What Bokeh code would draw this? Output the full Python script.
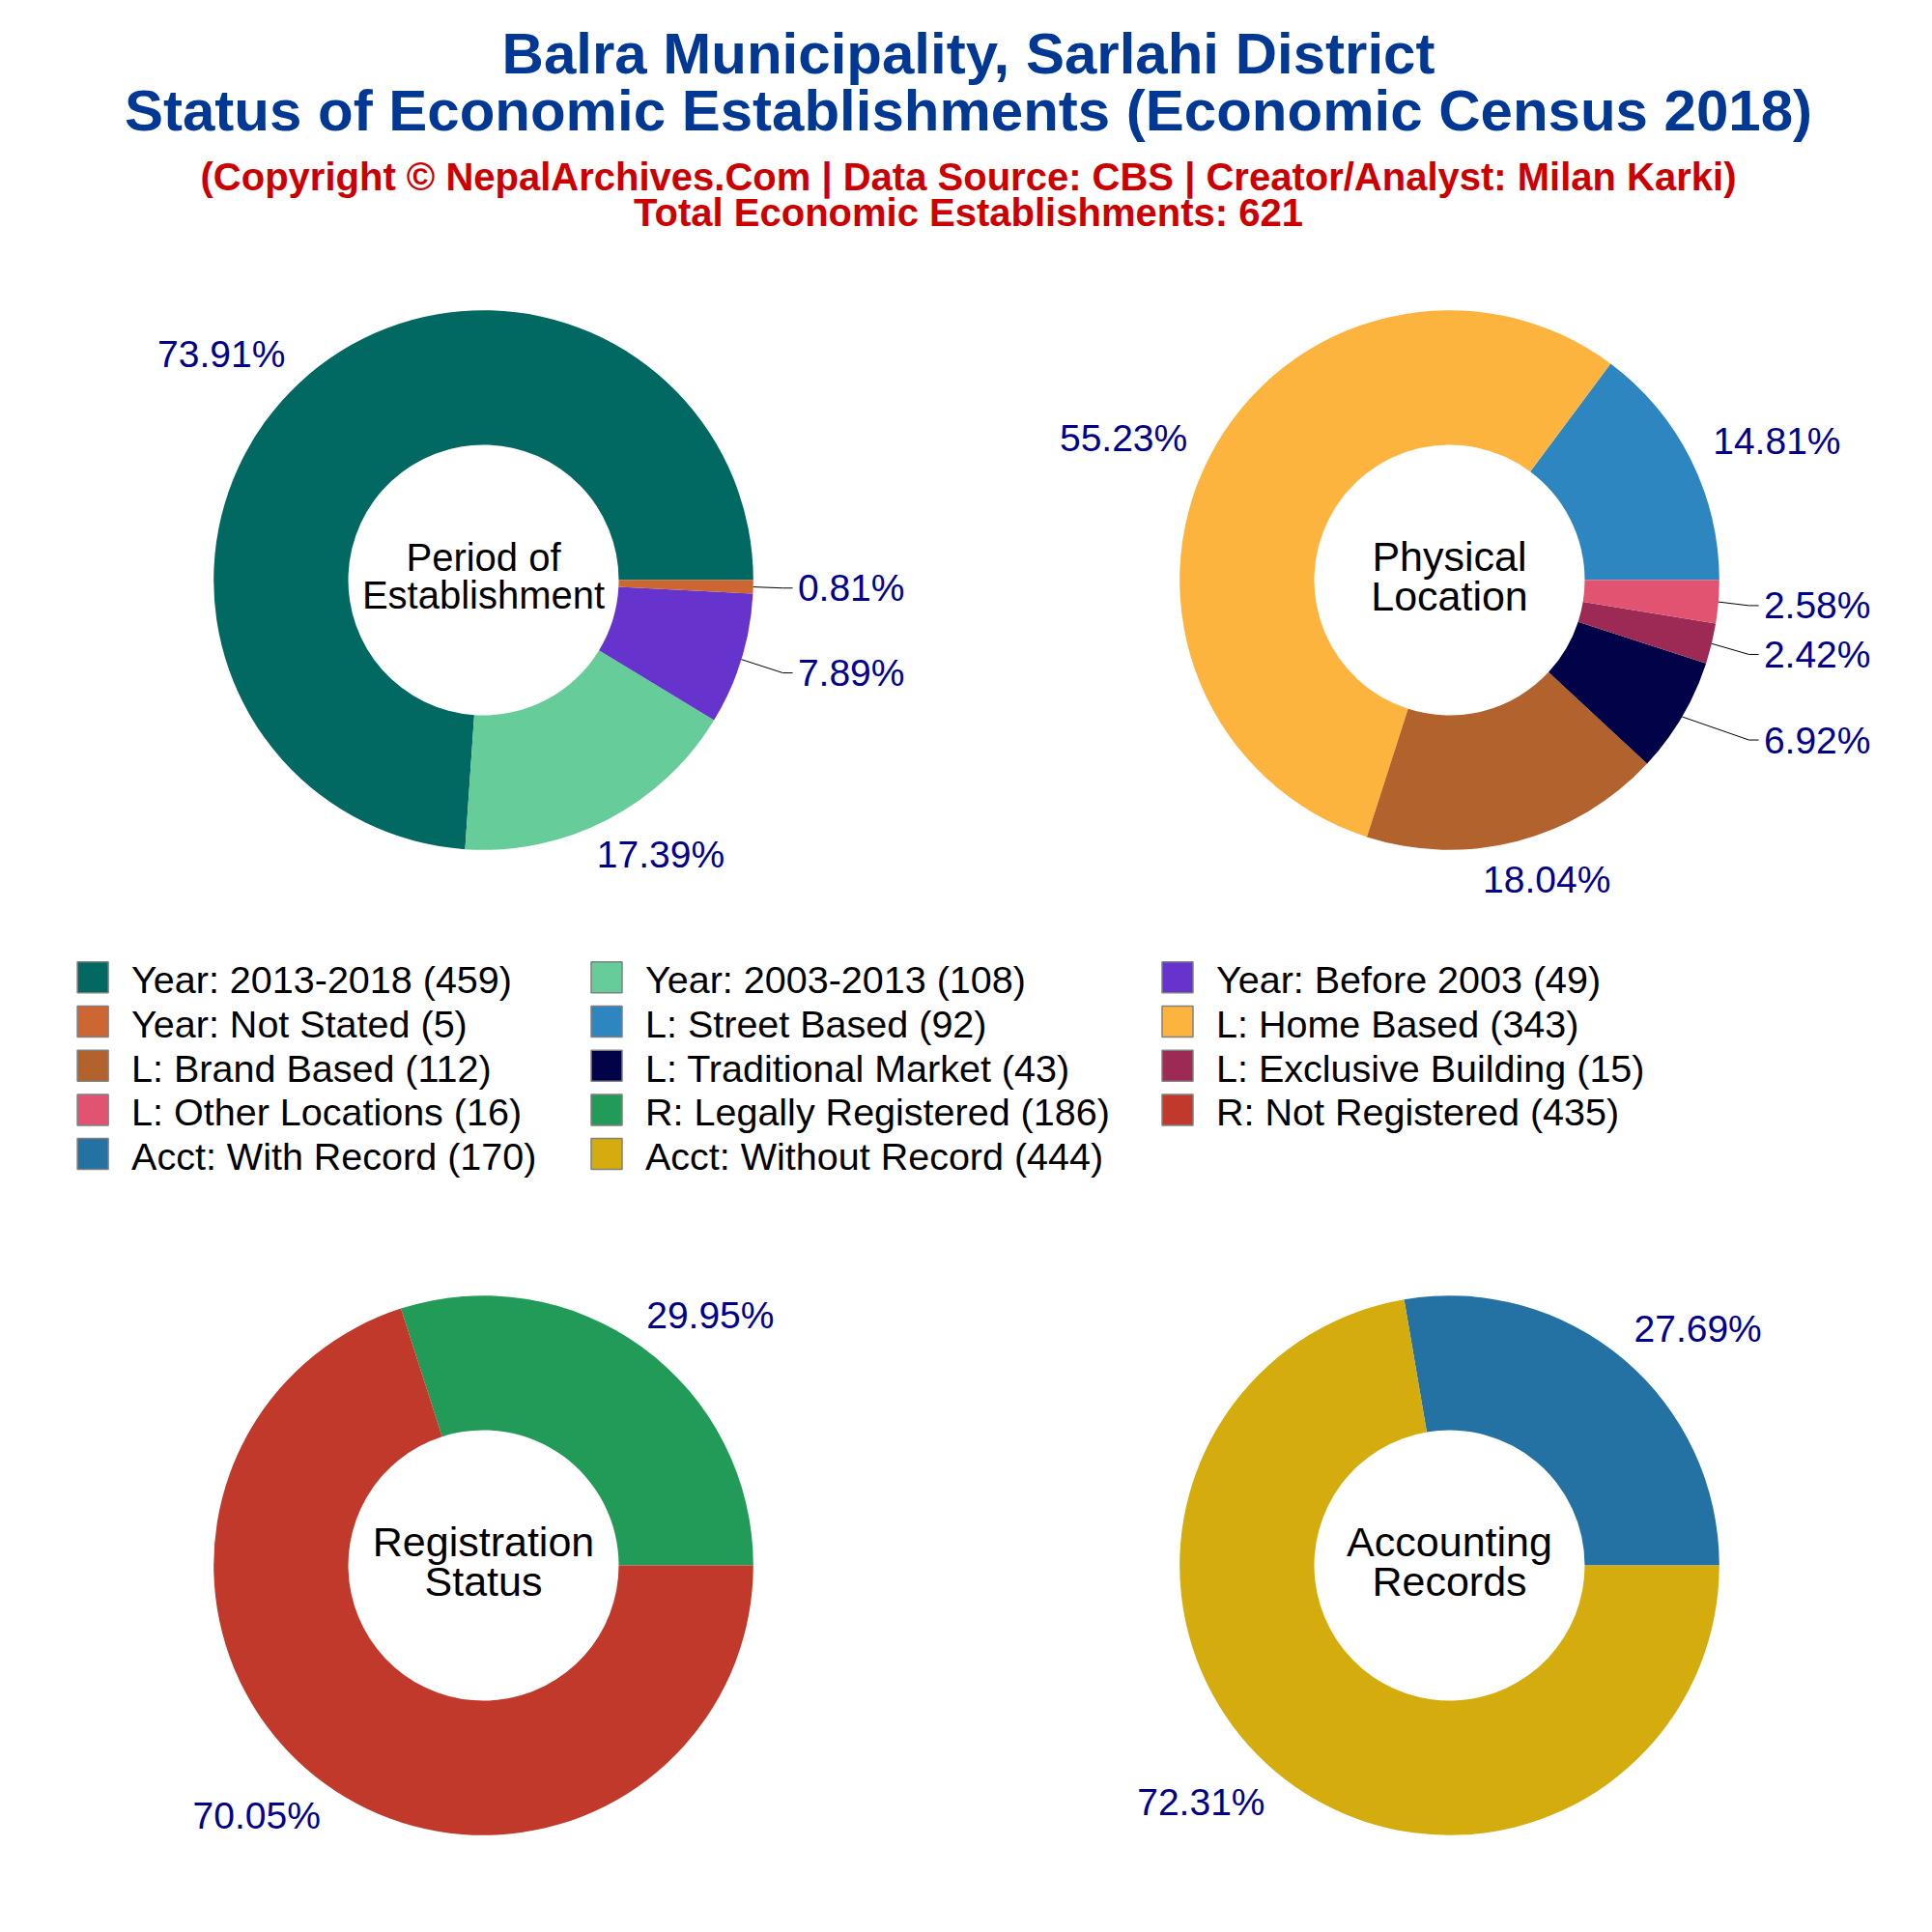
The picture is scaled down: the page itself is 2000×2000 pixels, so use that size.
import math
from bokeh.plotting import figure
from bokeh.models import Range1d
from bokeh.core.properties import value
from bokeh.embed import file_html
from bokeh.resources import INLINE

# ---------------- data ----------------
title_lines = ["Balra Municipality, Sarlahi District",
               "Status of Economic Establishments (Economic Census 2018)"]
subtitle_lines = ["(Copyright \u00a9 NepalArchives.Com | Data Source: CBS | Creator/Analyst: Milan Karki)",
                  "Total Economic Establishments: 621"]

period_labels = ["Year: 2013-2018", "Year: 2003-2013", "Year: Before 2003", "Year: Not Stated"]
period_counts = [459, 108, 49, 5]
period_colors = ["#026862", "#66CC99", "#6633CC", "#CC6633"]

location_labels = ["L: Street Based", "L: Home Based", "L: Brand Based",
                   "L: Traditional Market", "L: Exclusive Building", "L: Other Locations"]
location_counts = [92, 343, 112, 43, 15, 16]
location_colors = ["#2E86C1", "#FDB43F", "#B1622D", "#020249", "#9C2A55", "#E15370"]

registration_labels = ["R: Legally Registered", "R: Not Registered"]
registration_counts = [186, 435]
registration_colors = ["#229A58", "#C0392B"]

accounting_labels = ["Acct: With Record", "Acct: Without Record"]
accounting_counts = [170, 444]
accounting_colors = ["#2471A3", "#D4AC0D"]

center_titles = [["Period of", "Establishment"], ["Physical", "Location"],
                 ["Registration", "Status"], ["Accounting", "Records"]]
center_sizes = [40, 43, 43, 43]

# ---------------- layout ----------------
W = H = 1984


def X(sx):
    return sx


def Y(sy):
    # screen y (top-down) -> data y (bottom-up)
    return H - sy


FONT = "Liberation Sans"
LABEL_SIZE = 39
LEGEND_SIZE = 39.5
R_OUT = 279.3
R_IN = 140.0
R_LABEL = 320.0
CENTERS = [(500, 600), (1500, 600), (500, 1620), (1500, 1620)]
LABEL_COLOR = "#00008B"

p = figure(width=W, height=H, x_range=Range1d(0, W), y_range=Range1d(0, H),
           output_backend="svg", toolbar_location=None, min_border=0,
           x_axis_location=None, y_axis_location=None, outline_line_color=None,
           background_fill_color="white", border_fill_color="white")
p.grid.visible = False

CHAR_W = {"%": 0.889, ".": 0.278}


def text_w(s, size):
    return sum(CHAR_W.get(c, 0.556) for c in s) * size


charts = [
    (period_labels, period_counts, period_colors),
    (location_labels, location_counts, location_colors),
    (registration_labels, registration_counts, registration_colors),
    (accounting_labels, accounting_counts, accounting_colors),
]

for (labels, counts, colors), (cx, cy), ctitle, csize in zip(charts, CENTERS, center_titles, center_sizes):
    total = float(sum(counts))
    starts, ends = [], []
    acc = 0.0
    for c in counts:
        starts.append(acc / total * 2 * math.pi)
        acc += c
        ends.append(acc / total * 2 * math.pi)
    p.annular_wedge(x=[X(cx)] * len(counts), y=[Y(cy)] * len(counts),
                    inner_radius=R_IN, outer_radius=R_OUT,
                    start_angle=starts, end_angle=ends, direction="anticlock",
                    fill_color=colors, line_color=None)

    cl_x, cl_y, cl_t = [], [], []
    ll_x, ll_y, ll_t = [], [], []
    lead_xs, lead_ys = [], []
    for c, a0, a1 in zip(counts, starts, ends):
        frac = c / total
        mid = (a0 + a1) / 2
        cs, sn = math.cos(mid), math.sin(mid)
        txt = "%.2f%%" % (100 * frac)
        if frac < 0.1:
            sgn = 1 if cs >= 0 else -1
            ly = cy - 1.17 * R_OUT * sn
            lx = cx + sgn * 1.165 * R_OUT
            ll_x.append(X(lx))
            ll_y.append(Y(ly))
            ll_t.append(txt)
            lead_xs.append([X(cx + R_OUT * cs), X(cx + sgn * 1.11 * R_OUT), X(cx + sgn * 1.146 * R_OUT)])
            lead_ys.append([Y(cy - R_OUT * sn), Y(ly), Y(ly)])
        else:
            w = text_w(txt, LABEL_SIZE)
            sgn = 1 if cs >= 0 else -1
            k = min(0.4 * w, 0.595 * w * abs(cs))
            lx = cx + R_LABEL * cs + sgn * k
            ly = cy - R_LABEL * sn
            cl_x.append(X(lx))
            cl_y.append(Y(ly))
            cl_t.append(txt)
    if lead_xs:
        p.multi_line(xs=lead_xs, ys=lead_ys, line_color="black", line_width=1)
    if cl_t:
        p.text(x=cl_x, y=cl_y, text=cl_t, text_font=value(FONT), text_font_size="%dpx" % LABEL_SIZE,
               text_color=LABEL_COLOR, text_align="center", text_baseline="alphabetic")
    if ll_t:
        p.text(x=ll_x, y=ll_y, text=ll_t, text_font=value(FONT), text_font_size="%dpx" % LABEL_SIZE,
               text_color=LABEL_COLOR, text_align="left", text_baseline="alphabetic")

    # center title (two lines)
    p.text(x=[X(cx), X(cx)], y=[Y(cy - 0.58 * csize), Y(cy + 0.385 * csize)], text=ctitle,
           text_font=value(FONT), text_font_size="%dpx" % csize,
           text_color="black", text_align="center", text_baseline="alphabetic")

# ---------------- titles ----------------
p.text(x=[X(1002), X(1002)], y=[Y(55), Y(114)], text=title_lines,
       text_font=value(FONT), text_font_size="60px", text_font_style="bold",
       text_color="#003893", text_align="center", text_baseline="alphabetic")
p.text(x=[X(1002), X(1002)], y=[Y(182), Y(219)], text=subtitle_lines,
       text_font=value(FONT), text_font_size="40px", text_font_style="bold",
       text_color="#CC0000", text_align="center", text_baseline="alphabetic")

# ---------------- legend ----------------
leg_labels, leg_counts, leg_colors = [], [], []
for labels, counts, colors in charts:
    leg_labels += labels
    leg_counts += counts
    leg_colors += colors

COL_X = [79.6, 611.5, 1202.5]
ROW0 = 1011.3
ROW_STEP = 45.7
sw_x, sw_y, tx, ty, tt = [], [], [], [], []
for i, (lab, cnt) in enumerate(zip(leg_labels, leg_counts)):
    r, c = divmod(i, 3)
    ry = ROW0 + r * ROW_STEP
    sw_x.append(X(COL_X[c] + 16))
    sw_y.append(Y(ry))
    tx.append(X(COL_X[c] + 56))
    ty.append(Y(ry + 2.5))
    tt.append("%s (%d)" % (lab, cnt))
p.rect(x=sw_x, y=sw_y, width=32, height=32, fill_color=leg_colors,
       line_color="#808080", line_width=1.5)
p.text(x=tx, y=ty, text=tt, text_font=value(FONT), text_font_size="%.1fpx" % LEGEND_SIZE,
       text_color="black", text_align="left", text_baseline="alphabetic")

open("out.html", "w").write(file_html(p, INLINE))
